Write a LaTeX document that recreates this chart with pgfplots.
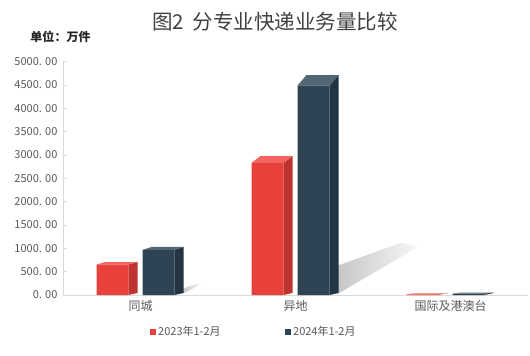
\documentclass[border=0pt]{standalone}
\usepackage{pgfplots}
\pgfplotsset{compat=1.18}
\usepackage{pgfplotstable}
\usepackage{fontspec}
\setmainfont{Noto Sans CJK SC}
\definecolor{cred}{HTML}{E8403A}
\definecolor{credside}{HTML}{BE3530}
\definecolor{credtop}{HTML}{F2645D}
\definecolor{cdark}{HTML}{2E4353}
\definecolor{cdarkside}{HTML}{233442}
\definecolor{cdarktop}{HTML}{536672}
\definecolor{txt}{HTML}{595959}
\definecolor{ttl}{HTML}{404040}
\definecolor{axgray}{HTML}{D9D9D9}

\pgfplotstableread{
x y23 y24
0 655 965
1 2830 4490
2 15 30
}\data

\pgfdeclareplotmark{empty}{}
\pgfplotsset{
  cube/.style n args={3}{only marks, mark=empty, scatter,
    visualization depends on={rawy \as \vy},
    scatter/@pre marker code/.code={%
      \pgfmathsetmacro\hh{\vy/5000*233.3}%
      \pgfmathsetmacro\dd{0.045*\hh+1}%
      \fill[#2, draw=none] (#1+16pt,0pt) -- (#1+25pt,\dd pt) -- (#1+25pt,{-\hh pt+2pt}) -- (#1+16pt,{-\hh pt}) -- cycle;
      \fill[#3, draw=none] (#1-16pt,0pt) -- (#1+16pt,0pt) -- (#1+25pt,\dd pt) -- (#1-7pt,\dd pt) -- cycle;
    },
    scatter/@post marker code/.code={}},
  shadow/.style={only marks, mark=empty, scatter,
    visualization depends on={rawy \as \vy},
    scatter/@pre marker code/.code={%
      \pgfmathsetmacro\hh{\vy/5000*233.3}%
      \pgfmathsetmacro\yb{-\hh+1}%
      \pgfmathsetmacro\ya{-0.86*\hh}%
      \pgfmathsetmacro\yc{-0.75*\hh}%
      \pgfmathsetmacro\yd{-0.77*\hh}%
      \pgfmathsetmacro\xc{#1+25+0.30*\hh}%
      \pgfmathsetmacro\xd{#1+25+0.38*\hh}%
      \path[draw=none, left color=black!22, right color=black!3]
        (#1+24pt,\yb pt) -- (#1+24pt,\ya pt) -- (\xc pt,\yc pt) -- (\xd pt,\yd pt) -- cycle;
    },
    scatter/@post marker code/.code={}}
}

\begin{document}
\begin{tikzpicture}
\path[use as bounding box] (0,0) rectangle (530pt,356pt);
\begin{axis}[
  at={(63pt,61pt)}, anchor=south west,
  scale only axis, width=465pt, height=233.3pt,
  xmin=-0.5, xmax=2.5, ymin=0, ymax=5000,
  clip=false,
  axis lines*=left,
  axis line style={axgray, line width=0.8pt},
  ytick={0,500,...,5000},
  yticklabels={0. 00,500. 00,1000. 00,1500. 00,2000. 00,2500. 00,3000. 00,3500. 00,4000. 00,4500. 00,5000. 00},
  ytick style={axgray, line width=0.8pt},
  tick align=inside, major tick length=4pt,
  yticklabel style={font=\fontsize{11}{11}\selectfont, color=txt, xshift=-2pt},
  xtick={0,1,2},
  xticklabels={同城,异地,国际及港澳台},
  xtick style={draw=none},
  xticklabel style={font=\fontsize{12}{12}\selectfont, color=txt, yshift=-2pt},
  legend image code/.code={\fill[#1] (0pt,-3.2pt) rectangle (6.5pt,3.3pt);},
  legend style={at={(0.41,-0.159)}, anchor=center, draw=none, fill=none,
    legend columns=2, font=\fontsize{11}{11}\selectfont, text=txt,
    /tikz/every even column/.append style={column sep=62pt}},
]
\addplot[shadow=18, draw=none, forget plot] table[x=x,y=y24]{\data};
\addplot[ybar, bar width=32pt, bar shift=-28pt, fill=cred, draw=none, forget plot] table[x=x,y=y23]{\data};
\addplot[ybar, bar width=32pt, bar shift=18pt, fill=cdark, draw=none, forget plot] table[x=x,y=y24]{\data};
\addplot[cube={-28pt}{credside}{credtop}, draw=none, forget plot] table[x=x,y=y23]{\data};
\addplot[cube={18pt}{cdarkside}{cdarktop}, draw=none, forget plot] table[x=x,y=y24]{\data};
\addlegendimage{fill=cred, draw=none}
\addlegendentry{2023年1-2月}
\addlegendimage{fill=cdark, draw=none}
\addlegendentry{2024年1-2月}
\end{axis}
\node[font=\fontsize{20.5}{20.5}\selectfont, color=ttl] at (275pt,334pt) {图2\hspace{9pt}分专业快递业务量比较};
\node[font=\bfseries\fontsize{12}{12}\selectfont, color=black!85] at (60.5pt,319pt) {单位：万件};
\end{tikzpicture}
\end{document}
